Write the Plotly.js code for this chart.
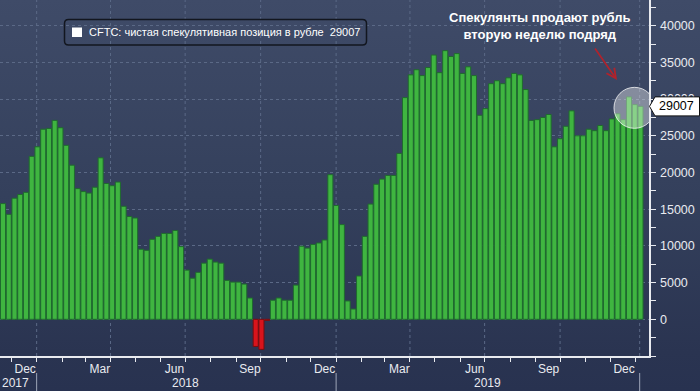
<!DOCTYPE html>
<html><head><meta charset="utf-8">
<script src="https://cdn.plot.ly/plotly-3.0.1.min.js"></script>
<style>
html,body{margin:0;padding:0;width:700px;height:391px;overflow:hidden;
background:linear-gradient(to bottom,#3f4b68 0%,#34405c 50%,#2a3451 90%,#283250 100%);}
#chart{width:700px;height:391px;}
</style></head><body><div id="chart"></div>
<script>
// Weekly CFTC report dates (Tuesdays)
const dates = [
 '2017-11-21','2017-11-28','2017-12-05','2017-12-12','2017-12-19','2017-12-26',
 '2018-01-02','2018-01-09','2018-01-16','2018-01-23','2018-01-30','2018-02-06','2018-02-13','2018-02-20','2018-02-27',
 '2018-03-06','2018-03-13','2018-03-20','2018-03-27','2018-04-03','2018-04-10','2018-04-17','2018-04-24',
 '2018-05-01','2018-05-08','2018-05-15','2018-05-22','2018-05-29','2018-06-05','2018-06-12','2018-06-19','2018-06-26',
 '2018-07-03','2018-07-10','2018-07-17','2018-07-24','2018-07-31','2018-08-07','2018-08-14','2018-08-21','2018-08-28',
 '2018-09-04','2018-09-11','2018-09-18','2018-09-25','2018-10-02','2018-10-09','2018-10-16','2018-10-23','2018-10-30',
 '2018-11-06','2018-11-13','2018-11-20','2018-11-27','2018-12-04','2018-12-11','2018-12-18','2018-12-25',
 '2019-01-01','2019-01-08','2019-01-15','2019-01-22','2019-01-29','2019-02-05','2019-02-12','2019-02-19','2019-02-26',
 '2019-03-05','2019-03-12','2019-03-19','2019-03-26','2019-04-02','2019-04-09','2019-04-16','2019-04-23','2019-04-30',
 '2019-05-07','2019-05-14','2019-05-21','2019-05-28','2019-06-04','2019-06-11','2019-06-18','2019-06-25',
 '2019-07-02','2019-07-09','2019-07-16','2019-07-23','2019-07-30','2019-08-06','2019-08-13','2019-08-20','2019-08-27',
 '2019-09-03','2019-09-10','2019-09-17','2019-09-24','2019-10-01','2019-10-08','2019-10-15','2019-10-22','2019-10-29',
 '2019-11-05','2019-11-12','2019-11-19','2019-11-26','2019-12-03','2019-12-10','2019-12-17','2019-12-24','2019-12-31',
 '2020-01-07'
];
// Net speculative position in RUB futures (contracts)
const values = [
 15760,14300,16500,17000,17300,22200,
 23500,25900,26000,27100,26100,23700,21000,17800,17400,
 17200,18000,22000,18500,18200,18700,15400,14000,
 13800,9550,9400,10900,11300,11700,11700,12100,9900,
 6700,5600,6400,7650,8200,7800,7650,5300,5070,
 5070,4800,2900,-3700,-4100,-150,2600,2900,2600,
 2600,4660,9960,9700,10200,10400,10800,19700,
 15500,12900,2500,1400,5900,11300,15700,18400,19100,
 19600,19600,22600,30200,33300,34000,33200,34300,36000,
 33600,36600,35800,36200,33500,34400,33200,27800,
 28700,32100,32500,32100,32900,33500,33300,31300,27100,
 27200,27500,27900,23500,24600,26300,28400,25000,25000,
 25900,25700,26400,25700,27300,28000,27200,30300,29250,
 29007
];
const yTicks = [0,5000,10000,15000,20000,25000,30000,35000,40000];
const yTickText = ['0','5000','10000','15000','20000','25000','30000','35000','40000'];
const yMarks = [-5000,0,5000,10000,15000,20000,25000,30000,35000,40000];
const monthLabelDates = ['2017-12-18','2018-03-19','2018-06-18','2018-09-18','2018-12-18','2019-03-19','2019-06-19','2019-09-17','2019-12-18'];
const monthLabels = ['Dec','Mar','Jun','Sep','Dec','Mar','Jun','Sep','Dec'];
const gridDates = ['2018-01-01','2018-04-01','2018-07-01','2018-10-01','2019-01-01','2019-04-01','2019-07-01','2019-10-01','2020-01-06'];
const yearLabels = ['2017','2018','2019'];
const yearLabelDates = ['2017-12-06','2018-07-02','2019-07-04'];
const yearSepDates = ['2018-01-01','2019-01-01','2020-01-06'];
const seriesName = 'CFTC: чистая спекулятивная позиция в рубле';
const noteText = '<b>Спекулянты продают рубль<br>вторую неделю подряд</b>';
const lastValue = values[values.length - 1];

const xRange = ['2017-11-17 08:00', '2020-01-17 08:40'];
const yRange = [-5000, 43500];
const W = 700, H = 391, ML = 0, MR = 51, MT = 0, MB = 35;
const PW = W - ML - MR, PH = H - MT - MB;

const t0 = new Date(xRange[0].replace(' ', 'T') + 'Z').getTime();
const t1 = new Date(xRange[1].replace(' ', 'T') + 'Z').getTime();
const xFrac = d => (new Date(d + 'T00:00:00Z').getTime() - t0) / (t1 - t0);
const px2fx = p => (p - ML) / PW;
const py2fy = p => 1 - (p - MT) / PH;
const v2fy = v => (v - yRange[0]) / (yRange[1] - yRange[0]);

const GREEN = '#3fb540', GREEN_EDGE = '#1f6a2e', RED = '#d8141c', RED_EDGE = '#7a0c10';
const FG = '#e9ebf0', GRID = '#5b6986';
const FONT = 'Liberation Sans, Arial, sans-serif';

const bars = {
  type: 'bar', x: dates, y: values, name: seriesName,
  marker: {
    color: values.map(v => v < 0 ? RED : GREEN),
    line: {color: values.map(v => v < 0 ? RED_EDGE : GREEN_EDGE), width: 1}
  },
  hoverinfo: 'x+y'
};
const tickArrows = {
  type: 'scatter', mode: 'markers', xaxis: 'x3', yaxis: 'y',
  x: yMarks.map(() => px2fx(652.5)), y: yMarks,
  marker: {symbol: 'triangle-right', size: 7, color: FG},
  cliponaxis: false, hoverinfo: 'skip', showlegend: false
};

function roundRect(x0, y0, x1, y1, r) {
  const X = p => px2fx(p), Y = p => py2fy(p);
  return `M${X(x0 + r)},${Y(y0)} L${X(x1 - r)},${Y(y0)} Q${X(x1)},${Y(y0)} ${X(x1)},${Y(y0 + r)} ` +
         `L${X(x1)},${Y(y1 - r)} Q${X(x1)},${Y(y1)} ${X(x1 - r)},${Y(y1)} ` +
         `L${X(x0 + r)},${Y(y1)} Q${X(x0)},${Y(y1)} ${X(x0)},${Y(y1 - r)} ` +
         `L${X(x0)},${Y(y0 + r)} Q${X(x0)},${Y(y0)} ${X(x0 + r)},${Y(y0)} Z`;
}

const shapes = [];
gridDates.forEach(d => shapes.push({type: 'line', xref: 'x', yref: 'paper', x0: d, x1: d, y0: 0, y1: 1,
  line: {color: GRID, width: 1, dash: 'dot'}, layer: 'below'}));
yearSepDates.forEach(d => shapes.push({type: 'line', xref: 'paper', yref: 'paper',
  x0: xFrac(d), x1: xFrac(d), y0: py2fy(373), y1: py2fy(391), line: {color: '#9ea6b8', width: 1}}));
// highlight circle around the last weeks
shapes.push({type: 'circle', xref: 'x', yref: 'y', x0: '2019-12-05 16:00', x1: '2020-01-24 16:00',
  y0: 26017, y1: 31603, fillcolor: 'rgba(255,255,255,0.38)', line: {color: 'rgba(255,255,255,0.75)', width: 1}});
// legend box
shapes.push({type: 'path', xref: 'paper', yref: 'paper', path: roundRect(64.5, 19.5, 366.5, 45, 4),
  line: {color: '#12161f', width: 1.5}, fillcolor: 'rgba(0,0,0,0)'});
shapes.push({type: 'rect', xref: 'paper', yref: 'paper', x0: px2fx(72), x1: px2fx(82), y0: py2fy(27.5), y1: py2fy(37),
  fillcolor: '#ffffff', line: {width: 0}});
// last value tag
const yc = v2fy(lastValue), dy = 9.5 / PH;
shapes.push({type: 'path', xref: 'paper', yref: 'paper',
  path: `M${px2fx(649.5)},${yc} L${px2fx(655)},${yc + dy} L${px2fx(699.5)},${yc + dy} L${px2fx(699.5)},${yc - dy} L${px2fx(655)},${yc - dy} Z`,
  fillcolor: '#ffffff', line: {color: '#111111', width: 1}});

const annotations = [
  {xref: 'paper', yref: 'paper', x: px2fx(87), y: py2fy(32.3), xanchor: 'left', yanchor: 'middle', showarrow: false,
   text: seriesName + '&nbsp;&nbsp;' + lastValue, font: {family: FONT, size: 11, color: '#ffffff'}},
  {xref: 'paper', yref: 'paper', x: px2fx(540), y: py2fy(26), xanchor: 'center', yanchor: 'middle', showarrow: false,
   text: noteText, align: 'center', font: {family: FONT, size: 13, color: '#ffffff'}},
  {xref: 'paper', yref: 'paper', x: px2fx(617), y: py2fy(80), ax: -23, ay: -33, text: '', showarrow: true,
   arrowhead: 5, arrowsize: 1.1, arrowwidth: 1.7, arrowcolor: '#b0232c'},
  {xref: 'paper', yref: 'y', x: px2fx(676.5), y: lastValue, xanchor: 'center', yanchor: 'middle', showarrow: false,
   text: String(lastValue), font: {family: FONT, size: 12.5, color: '#000000'}}
];
yearLabels.forEach((t, i) => annotations.push({xref: 'x', yref: 'paper', x: yearLabelDates[i], y: py2fy(383),
  xanchor: 'center', yanchor: 'middle', showarrow: false, text: t, font: {family: FONT, size: 12, color: FG}}));

const layout = {
  width: W, height: H, margin: {l: ML, r: MR, t: MT, b: MB},
  paper_bgcolor: 'rgba(0,0,0,0)', plot_bgcolor: 'rgba(0,0,0,0)',
  showlegend: false, bargap: 0.12,
  font: {family: FONT, color: FG},
  xaxis: {type: 'date', range: xRange, tickmode: 'array', tickvals: monthLabelDates, ticktext: monthLabels,
    ticks: '', showgrid: false, zeroline: false, showline: true, linecolor: FG, linewidth: 1.5,
    tickfont: {family: FONT, size: 12, color: FG}, ticklabelstandoff: 1,
    minor: {ticks: 'outside', dtick: 'M1', tick0: '2017-12-01', ticklen: 4, tickwidth: 1, tickcolor: FG, showgrid: false},
    fixedrange: true},
  xaxis3: {overlaying: 'x', range: [0, 1], visible: false, fixedrange: true},
  yaxis: {side: 'right', range: yRange, tickmode: 'array', tickvals: yTicks, ticktext: yTickText, ticks: '',
    showgrid: true, gridcolor: GRID, griddash: 'dot', gridwidth: 1, zeroline: false,
    showline: true, linecolor: FG, linewidth: 1.5,
    tickfont: {family: FONT, size: 12.5, color: FG}, ticklabelstandoff: 7,
    minor: {ticks: 'outside', dtick: 2500, tick0: 0, ticklen: 5, tickwidth: 1, tickcolor: FG, showgrid: false},
    fixedrange: true},
  shapes: shapes, annotations: annotations
};
Plotly.newPlot('chart', [bars, tickArrows], layout, {displayModeBar: false, staticPlot: true});
</script></body></html>
